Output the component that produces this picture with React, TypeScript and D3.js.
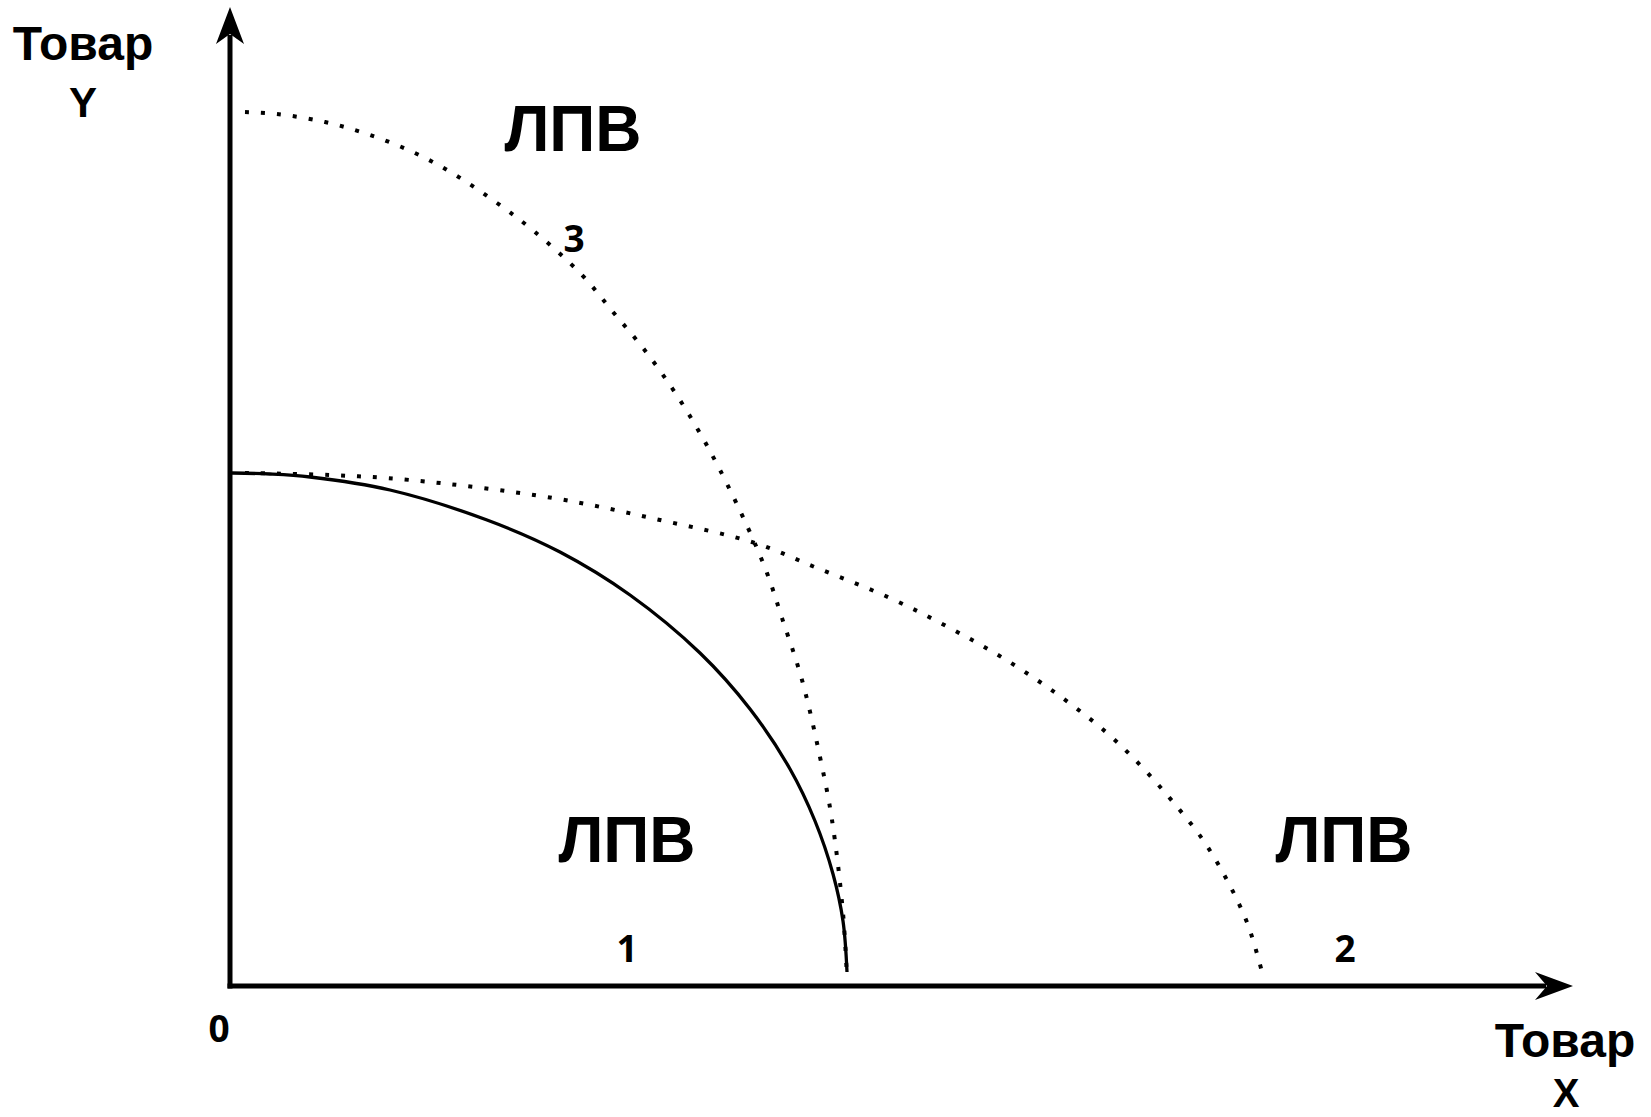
import React from "react"
import * as d3 from "d3"

// production possibility frontiers (ЛПВ)
// x = Товар X, y = Товар Y (arbitrary units, origin at 0)
const curve1X = [2, 40, 80, 160, 257, 330, 400, 470, 520, 560, 585, 603, 613, 617]
const curve1Y = [513, 512, 509, 496, 466, 434, 391, 333, 277, 217, 165, 112, 65, 14]

const curve2X = [15, 100, 180, 323, 430, 525, 587, 660, 718, 773, 827, 877, 912, 943, 973, 998, 1018, 1032]
const curve2Y = [513, 511, 506, 488, 466, 443, 418, 388, 359, 328, 292, 253, 219, 184, 146, 104, 61, 14]

const curve3X = [15, 47, 95, 140, 185, 227, 267, 305, 352, 383, 413, 442, 467, 490, 518, 537, 552, 572, 590, 602, 613, 617]
const curve3Y = [874, 872, 864, 851, 833, 810, 783, 754, 711, 674, 638, 598, 558, 516, 458, 413, 368, 306, 229, 166, 73, 8]

const regionLabels = ["ЛПВ", "ЛПВ", "ЛПВ"]
const curveNumbers = ["1", "2", "3"]

const W = 1651
const H = 1117
const margin = { top: 7, right: 78, bottom: 131, left: 230 }

const x = d3.scaleLinear().domain([0, 1343]).range([margin.left, W - margin.right])
const y = d3.scaleLinear().domain([0, 979]).range([H - margin.bottom, margin.top])

const zip = (xs: number[], ys: number[]) => xs.map((v, i) => [v, ys[i]] as [number, number])

const line = d3.line<[number, number]>()
  .x(d => x(d[0]))
  .y(d => y(d[1]))
  .curve(d3.curveCatmullRom.alpha(0.5))

const labelFont = "'Liberation Sans', Arial, sans-serif"
const numFont = "'Open Sans', sans-serif"

export default function App() {
  const x0 = x(0), y0 = y(0)
  const xEnd = x(1343), yEnd = y(979)

  // notched arrow heads
  const yArrow = `M${x0},${yEnd} L${x0 - 14},${yEnd + 37} L${x0},${yEnd + 27} L${x0 + 14},${yEnd + 37} Z`
  const xArrow = `M${xEnd},${y0} L${xEnd - 38},${y0 - 14} L${xEnd - 26},${y0} L${xEnd - 38},${y0 + 14} Z`

  return (
    <svg width={W} height={H} style={{ position: "absolute", left: 0, top: 0, background: "#fff" }}>
      {/* axes */}
      <line x1={x0} y1={y0 + 2.5} x2={x0} y2={yEnd + 28} stroke="#000" strokeWidth={5} />
      <line x1={x0 - 2.5} y1={y0} x2={xEnd - 27} y2={y0} stroke="#000" strokeWidth={5} />
      <path d={yArrow} fill="#000" />
      <path d={xArrow} fill="#000" />

      {/* curves */}
      <path d={line(zip(curve2X, curve2Y)) || ""} fill="none" stroke="#000" strokeWidth={4} strokeDasharray="4 12" />
      <path d={line(zip(curve3X, curve3Y)) || ""} fill="none" stroke="#000" strokeWidth={4} strokeDasharray="4 12" />
      <path d={line(zip(curve1X, curve1Y)) || ""} fill="none" stroke="#000" strokeWidth={3.3} />

      {/* axis titles */}
      <g fontFamily={labelFont} fontWeight="bold" textAnchor="middle" fill="#000">
        <text x={83} y={60} fontSize={48}>Товар</text>
        <text x={83} y={117} fontSize={42}>Y</text>
        <text x={1565} y={1057} fontSize={48}>Товар</text>
        <text x={1566} y={1107} fontSize={40}>X</text>
      </g>

      {/* region labels */}
      <g fontFamily={labelFont} fontWeight="bold" textAnchor="middle" fill="#000" fontSize={64}>
        <text x={x(343)} y={y(835)}>{regionLabels[0]}</text>
        <text x={x(397)} y={y(124)}>{regionLabels[1]}</text>
        <text x={x(1114)} y={y(124)}>{regionLabels[2]}</text>
      </g>

      {/* curve numbers and origin */}
      <g fontFamily={numFont} fontWeight="bold" textAnchor="middle" fill="#000" fontSize={37}>
        <text x={x(-11)} y={y(-56)}>0</text>
        <text x={x(397)} y={y(24)}>{curveNumbers[0]}</text>
        <text x={x(1115)} y={y(24)}>{curveNumbers[1]}</text>
        <text x={x(344)} y={y(734)}>{curveNumbers[2]}</text>
      </g>
    </svg>
  )
}
